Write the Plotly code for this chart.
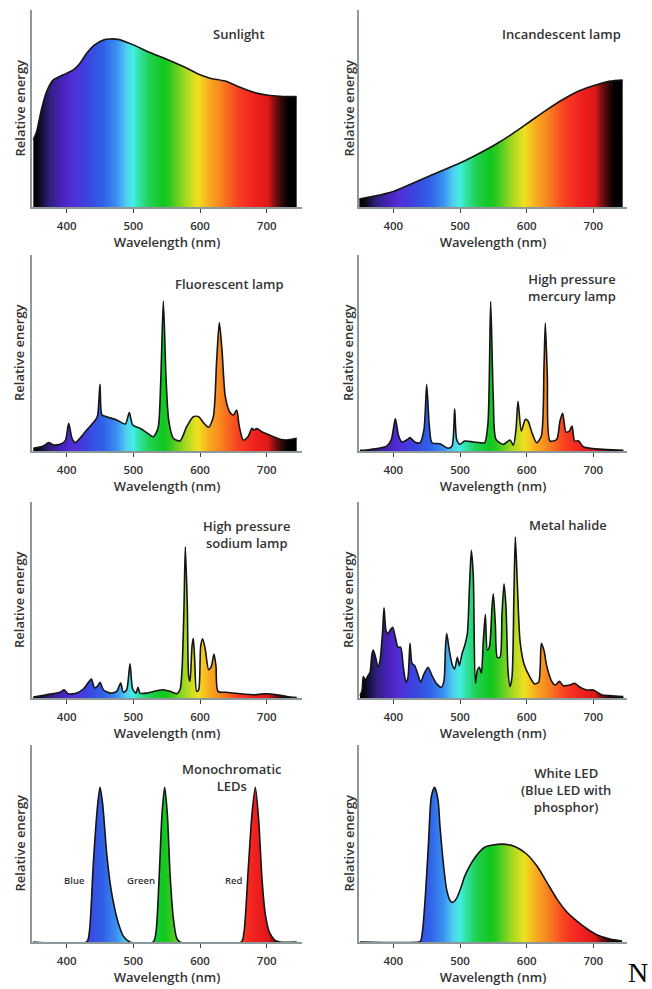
import plotly.graph_objects as go

# ---------------- data (wavelength nm, relative energy 0-100) ----------------
sun_nm = [350, 355, 362, 370, 380, 395, 410, 420, 430, 442, 455, 465, 477, 500, 525,
          550, 575, 600, 615, 640, 660, 685, 705, 725, 745]
sun_val = [34.1, 38.3, 49.3, 58.6, 64.5, 67.1, 69.6, 73.0, 78.0, 82.3, 84.8, 85.3, 85.1,
           82.3, 78.4, 75.0, 71.3, 67.1, 65.4, 63.7, 60.8, 57.8, 56.6, 56.1, 56.1]

inc_nm = [349, 370, 400, 430, 455, 500, 530, 555, 580, 605, 630, 655, 680, 705, 725, 744]
inc_val = [4.1, 5.4, 7.9, 12.2, 15.9, 22.3, 27.4, 32.1, 37.5, 43.4, 49.3, 54.7, 59.1,
           62.0, 63.9, 64.5]

flu_nm = [350, 365, 373, 380, 390, 398, 403, 408, 413, 420, 430, 440, 446, 450, 453, 460,
          475, 488, 494, 499, 510, 520, 530, 537, 541, 545, 549, 553, 560, 570, 580, 590,
          598, 606, 613, 620, 625, 629, 633, 638, 645, 650, 655, 659, 665, 672, 678, 681,
          685, 695, 710, 720, 730, 745]
flu_val = [1.4, 2.6, 4.3, 3.1, 3.4, 5.3, 14.1, 6.5, 4.3, 6.5, 10.7, 14.5, 17.5, 34.0, 18.4,
           17.5, 15.8, 13.8, 19.6, 13.3, 11.6, 9.4, 7.3, 11.6, 34.5, 76.5, 37.9, 15.8, 6.5,
           5.1, 12.4, 17.5, 17.5, 14.1, 12.1, 17.5, 46.4, 65.5, 51.5, 27.7, 19.6, 18.4, 20.9,
           12.4, 5.6, 7.3, 11.6, 10.7, 11.4, 9.4, 7.3, 6.0, 5.6, 6.5]

mer_nm = [350, 365, 378, 390, 397, 403, 408, 413, 420, 425, 432, 440, 446, 450, 454, 458,
          470, 482, 488, 492, 495, 500, 507, 520, 530, 537, 542, 546, 550, 554, 565, 575,
          580, 584, 587, 592, 598, 602, 608, 615, 622, 626, 628, 631, 635, 645, 650, 654,
          659, 664, 668, 672, 678, 685, 700, 720, 745]
mer_val = [0.3, 0.8, 1.4, 2.5, 5.9, 16.4, 7.6, 4.6, 5.6, 6.8, 4.6, 4.2, 11.0, 33.9, 12.7,
           4.2, 3.7, 1.4, 2.5, 21.5, 5.9, 3.4, 5.1, 4.6, 4.2, 4.2, 14.4, 76.3, 26.3, 5.9,
           3.4, 5.6, 2.9, 11.0, 25.4, 10.2, 16.1, 15.3, 9.3, 4.2, 7.6, 43.2, 65.3, 38.1,
           5.1, 5.9, 15.3, 19.2, 9.7, 10.2, 12.7, 5.1, 5.1, 2.2, 1.2, 0.8, 0.3]

sod_nm = [350, 370, 390, 396, 402, 415, 425, 432, 437, 442, 446, 450, 455, 465, 475, 481,
          485, 490, 495, 499, 504, 507, 510, 520, 535, 545, 555, 565, 570, 573, 576, 578,
          581, 583, 585, 588, 590, 592, 595, 598, 601, 604, 608, 613, 617, 621, 624, 627,
          640, 660, 685, 700, 715, 730, 745]
sod_val = [0.5, 1.7, 2.9, 4.2, 2.2, 2.5, 4.6, 7.6, 9.7, 5.1, 5.9, 8.0, 4.2, 2.5, 3.4, 7.6,
           2.9, 4.2, 17.5, 4.6, 2.5, 5.4, 2.5, 2.5, 3.7, 4.2, 3.4, 2.2, 4.2, 14.4, 46.6,
           77.1, 46.6, 11.0, 8.5, 26.3, 30.5, 19.5, 3.4, 4.2, 26.3, 30.2, 24.6, 14.4, 16.1,
           22.4, 16.1, 3.4, 2.9, 2.2, 1.7, 2.2, 1.7, 0.8, 0.2]

mh_nm = [350, 353, 355, 358, 362, 365, 368, 370, 374, 377, 380, 384, 386, 389, 392, 395,
         399, 403, 407, 411, 415, 419, 422, 425, 428, 432, 437, 441, 446, 452, 458, 465,
         472, 476, 478, 480, 484, 488, 492, 496, 499, 503, 507, 511, 514, 517, 520, 523,
         526, 529, 532, 535, 538, 541, 544, 548, 550, 553, 556, 560, 563, 566, 569, 572,
         575, 578, 581, 583, 586, 590, 596, 605, 612, 618, 622, 626, 630, 637, 643, 649,
         655, 665, 672, 680, 690, 700, 706, 712, 725, 745]
mh_val = [1.2, 3.7, 10.9, 9.2, 11.4, 13.1, 22.5, 24.5, 19.9, 15.7, 19.1, 34.4, 46.0, 34.4,
          32.7, 34.4, 36.1, 31.0, 25.9, 25.9, 15.7, 8.0, 10.6, 27.9, 17.7, 16.5, 11.9, 8.0,
          12.3, 15.7, 11.4, 7.2, 5.5, 8.9, 24.2, 33.0, 24.2, 17.4, 14.8, 20.8, 16.5, 22.5,
          26.7, 32.7, 54.9, 75.3, 61.7, 7.5, 14.0, 15.7, 12.6, 29.3, 42.6, 24.5, 25.9, 46.3,
          53.2, 37.8, 20.8, 20.8, 42.9, 58.3, 46.3, 14.0, 5.8, 10.6, 54.9, 82.1, 58.3, 29.3,
          17.4, 10.6, 7.2, 8.0, 27.9, 24.2, 16.5, 8.9, 6.6, 8.5, 6.3, 6.6, 7.5, 5.5, 4.1,
          4.1, 2.9, 1.7, 1.2, 0.7]

led_nm = [350, 430, 434, 440, 446, 450, 454, 460, 466, 472, 478, 485, 495,
          530, 534, 539, 543, 547, 551, 555, 560, 565, 570,
          662, 666, 672, 678, 683, 688, 693, 698, 704, 712, 720, 745]
led_val = [0, 0, 5, 40, 68, 78.5, 70, 45, 28, 17, 9, 3, 0,
           0, 5, 35, 65, 78.5, 65, 35, 12, 2, 0,
           0, 5, 35, 65, 78.5, 62, 32, 14, 5, 1, 0, 0]
led_names = ["Blue", "Green", "Red"]
led_label_nm = [430, 535, 667]

wled_nm = [350, 438, 441, 444, 448, 453, 457, 462, 467, 470, 475, 480, 485, 489, 495,
           502, 507, 522, 537, 562, 582, 601, 616, 631, 646, 661, 676, 691, 705, 725, 743]
wled_val = [0, 0, 0.5, 6.2, 23.1, 51.9, 73.8, 78.5, 72.1, 58.6, 40.0, 26.5, 21.1, 20.1,
            22.3, 28.2, 33.3, 42.6, 48.1, 49.7, 48.5, 44.3, 38.3, 29.9, 21.5, 15.0, 10.5,
            6.6, 3.7, 1.5, 0.5]

titles = ["Sunlight", "Incandescent lamp", "Fluorescent lamp",
          "High pressure<br>mercury lamp", "High pressure<br>sodium lamp", "Metal halide",
          "Monochromatic<br>LEDs", "White LED<br>(Blue LED with<br>phosphor)"]
tick_vals = [400, 500, 600, 700]
tick_text = ["400", "500", "600", "700"]

series = [(sun_nm, sun_val), (inc_nm, inc_val), (flu_nm, flu_val), (mer_nm, mer_val),
          (sod_nm, sod_val), (mh_nm, mh_val), (led_nm, led_val), (wled_nm, wled_val)]

# ---------------- layout geometry ----------------
W, H = 652, 989
FONT = "Open Sans"
TXT = "#333333"
AXIS_GRAY = "#8d989b"

spectrum = [
    [0.0, "#000000"], [0.0125, "#050308"], [0.035, "#1a1040"], [0.0625, "#302080"],
    [0.1125, "#4a22c0"], [0.15, "#5030d8"], [0.2, "#3c42e0"], [0.2625, "#3062e8"],
    [0.3125, "#3a90f0"], [0.35, "#50d0f0"], [0.375, "#40f0e0"], [0.4, "#30e0a0"],
    [0.4375, "#20d050"], [0.4875, "#10c820"], [0.5125, "#30c820"], [0.5675, "#a0d820"],
    [0.6175, "#f0e020"], [0.655, "#f8b020"], [0.7075, "#f88020"], [0.7675, "#f84020"],
    [0.83, "#f02020"], [0.88, "#e01818"], [0.905, "#801010"], [0.9325, "#300808"],
    [0.955, "#000000"], [1.0, "#000000"],
]

col_px = [(32, 302, [348, 753]), (359, 627, [348.5, 750.5])]
row_px = [(10, 207), (255, 451), (502, 698), (745, 942)]

fig = go.Figure()
annotations = []
layout_axes = {}

for i, (xs, ys) in enumerate(series):
    r, c = divmod(i, 2)
    x0, x1, xr = col_px[c]
    t, b = row_px[r]
    n = "" if i == 0 else str(i + 1)
    fig.add_trace(go.Scatter(
        x=xs, y=ys, mode="lines", line=dict(color="#151515", width=1.6, shape="spline",
                                            smoothing=0.7),
        fill="tozeroy",
        fillgradient=dict(type="horizontal", colorscale=spectrum, start=350, stop=750),
        xaxis="x" + n, yaxis="y" + n, showlegend=False, hoverinfo="x+y"))
    layout_axes["xaxis" + n] = dict(
        domain=[x0 / W, x1 / W], range=xr, anchor="y" + n,
        showline=True, linecolor=AXIS_GRAY, linewidth=1.5, showgrid=False, zeroline=False,
        ticks="outside", ticklen=4, tickwidth=1, tickcolor="#444",
        tickvals=tick_vals, ticktext=tick_text, ticklabelstandoff=3,
        tickfont=dict(family=FONT, size=11.5, color=TXT, weight=600),
        title=dict(text="Wavelength (nm)", standoff=0,
                   font=dict(family=FONT, size=13, color=TXT, weight=600)))
    layout_axes["yaxis" + n] = dict(
        domain=[1 - b / H, 1 - t / H], range=[0, 100], anchor="x" + n,
        showline=True, linecolor=AXIS_GRAY, linewidth=2, showgrid=False, zeroline=False,
        showticklabels=False, ticks="")
    # y title
    yx = 19 if c == 0 else 348
    annotations.append(dict(
        text="Relative energy", textangle=-90, xref="paper", yref="paper",
        x=yx / W, y=1 - (t + b) / 2 / H, showarrow=False, xanchor="center", yanchor="middle",
        font=dict(family=FONT, size=13, color=TXT, weight=600)))

# panel titles (centre x px, top y px)
title_pos = [(239, 23), (561, 23), (229, 273), (572, 268), (246, 515), (568, 514),
             (232, 758), (566, 762)]
for txt, (px, py) in zip(titles, title_pos):
    annotations.append(dict(
        text=txt, xref="paper", yref="paper", x=px / W, y=1 - py / H, showarrow=False,
        xanchor="center", yanchor="top", align="center",
        font=dict(family=FONT, size=13, color=TXT, weight=600)))

# LED colour labels
for name, lx in zip(led_names, led_label_nm):
    annotations.append(dict(
        text=name, xref="x7", yref="y7", x=lx, y=31, showarrow=False,
        xanchor="right", yanchor="middle",
        font=dict(family=FONT, size=9.5, color=TXT, weight=600)))

annotations.append(dict(
    text="N", xref="paper", yref="paper", x=638 / W, y=0, showarrow=False,
    xanchor="center", yanchor="bottom", borderpad=0,
    font=dict(family="Liberation Serif", size=28, color="#000000")))

fig.update_layout(
    width=W, height=H, margin=dict(l=0, r=0, t=0, b=0),
    paper_bgcolor="white", plot_bgcolor="white",
    annotations=annotations, **layout_axes)

fig.write_html("out.html", config={"displayModeBar": False},
               post_script="document.body.style.margin='0px';document.body.style.overflow='hidden';")
